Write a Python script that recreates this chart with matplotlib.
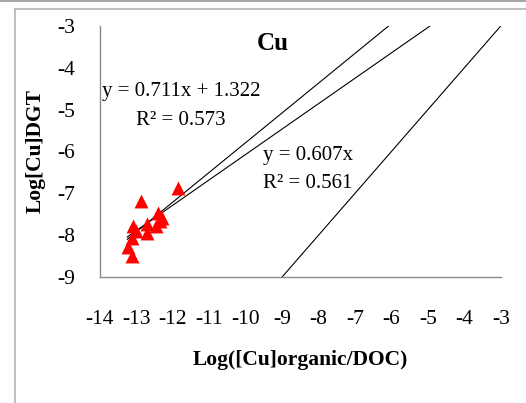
import numpy as np
import matplotlib.pyplot as plt
from matplotlib.lines import Line2D

plt.rcParams['font.family'] = ['Liberation Serif', 'DejaVu Serif']
plt.rcParams['axes.unicode_minus'] = False

# data
log_cu_org_doc = [-11.86, -12.88, -12.40, -12.31, -12.36, -12.45, -12.70, -12.72,
                  -13.09, -13.00, -13.13, -13.22, -13.13]
log_cu_dgt = [-6.88, -7.18, -7.46, -7.58, -7.66, -7.78, -7.74, -7.94,
              -7.78, -7.90, -8.06, -8.29, -8.49]

fit1_slope, fit1_icpt = 0.711, 1.322
fit2_slope = 0.607
xticks = list(range(-14, -2))
yticks = list(range(-9, -2))

fig = plt.figure(figsize=(5.26, 4.03), dpi=100)
ax = fig.add_axes([0.190, 0.3127, 0.762, 0.6228])

ax.scatter(log_cu_org_doc, log_cu_dgt, marker='^', s=100, color='red', zorder=3, linewidths=0)

xfit = np.array([-13.25, 0.0])
ax.plot(xfit, fit1_slope * xfit + fit1_icpt, color='black', lw=0.8)
ax.plot(xfit, fit2_slope * xfit, color='black', lw=0.8)
x11 = np.array([-9.0, -3.0])
ax.plot(x11, x11, color='black', lw=0.8)

ax.set_xlim(-14, -3)
ax.set_ylim(-9, -3)
ax.set_xticks(xticks)
ax.set_yticks(yticks)
ax.tick_params(length=0, labelsize=15.5)
ax.tick_params(axis='x', pad=24)
ax.tick_params(axis='y', pad=18)
for s in ['top', 'right']:
    ax.spines[s].set_visible(False)
for s in ['left', 'bottom']:
    ax.spines[s].set_color('#8c8c8c')
    ax.spines[s].set_linewidth(1.0)

ax.set_xlabel('Log([Cu]organic/DOC)', fontsize=15.5, fontweight='bold', labelpad=15)
ax.set_ylabel('Log[Cu]DGT', fontsize=15.5, fontweight='bold', labelpad=8)

ax.text(-9.26, -3.41, 'Cu', fontsize=18, fontweight='bold', ha='center', va='center')
ax.text(-13.95, -4.555, 'y = 0.711x + 1.322', fontsize=15, ha='left', va='center')
ax.text(-11.78, -5.25, 'R² = 0.573', fontsize=15, ha='center', va='center')
ax.text(-9.53, -6.09, 'y = 0.607x', fontsize=15, ha='left', va='center')
ax.text(-9.53, -6.76, 'R² = 0.561', fontsize=15, ha='left', va='center')

# outer frame like the original screenshot
W, H = 526, 403
fig.add_artist(Line2D([0, 1], [1 - 1 / H, 1 - 1 / H], color='#a8a8a8', lw=1.5))
fig.add_artist(Line2D([15 / W, 1], [1 - 9 / H, 1 - 9 / H], color='#b4b4b4', lw=1.2))
fig.add_artist(Line2D([15 / W, 15 / W], [0, 1 - 9 / H], color='#b4b4b4', lw=1.2))

fig.savefig('out.png', dpi=100)
